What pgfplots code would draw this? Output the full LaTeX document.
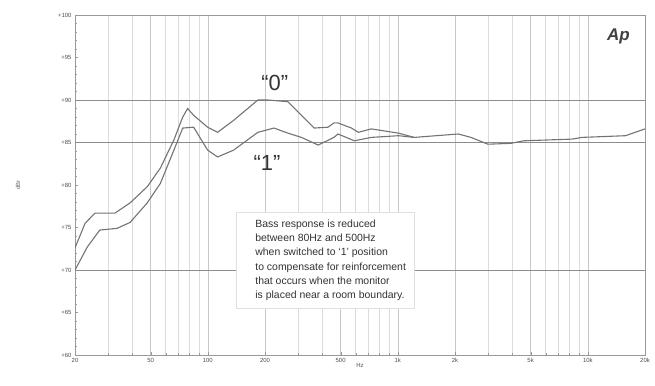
\documentclass[border=0pt]{standalone}
\usepackage{fontspec}
\setmainfont{Liberation Sans}
\usepackage{pgfplots}
\pgfplotsset{compat=1.18}
\begin{document}
\begin{tikzpicture}[x=1bp,y=1bp]
\begin{axis}[
  at={(75bp,31bp)}, anchor=south west,
  width=570bp, height=340bp, scale only axis,
  xmode=log, xmin=20, xmax=20000, ymin=60, ymax=100,
  xtick={20,50,100,200,500,1000,2000,5000,10000,20000},
  xticklabels={20,50,100,200,500,1k,2k,5k,10k,20k},
  minor xtick={30,40,60,70,80,90,300,400,600,700,800,900,3000,4000,6000,7000,8000,9000},
  ytick={60,65,70,75,80,85,90,95,100},
  yticklabels={+60,+65,+70,+75,+80,+85,+90,+95,+100},
  minor ytick={61,62,63,64,66,67,68,69,71,72,73,74,76,77,78,79,81,82,83,84,86,87,88,89,91,92,93,94,96,97,98,99},
  /pgf/number format/assume math mode=true,
  tick label style={font=\fontsize{6}{7}\selectfont, text=black!70},
  xmajorgrids, xminorgrids,
  major grid style={black!22, line width=0.6pt},
  minor grid style={black!14, line width=0.5pt},
  extra y ticks={70,85,90},
  extra y tick labels={},
  extra y tick style={grid=major, major grid style={black!45, line width=0.7pt}, major tick length=0pt},
  axis line style={black!40},
  tick style={black!40},
  major tick length=3bp, minor tick length=2bp,
  xtick pos=bottom, ytick pos=left,
  xlabel={Hz}, xlabel style={font=\fontsize{6}{7}\selectfont, text=black!70, yshift=6bp},
  ylabel={dBr},
  every axis y label/.style={at={(axis description cs:-0.1,0.5)}, rotate=90, anchor=center, font=\fontsize{6}{7}\selectfont, text=black!60},
  clip=true,
]
\addplot[black!55, line width=1.1pt] coordinates {
(20,72.6) (22.6,75.5) (25.5,76.7) (32.5,76.7) (39,77.9) (48,79.8) (56.3,82) (66.3,85.3) (73.8,88) (78.3,89.0) (84.2,88.2) (99.8,86.8) (112.6,86.2) (136.6,87.6) (183.5,90.0) (207,90) (264,89.8) (311,88.2) (363,86.7) (429,86.8) (461,87.3) (484,87.3) (570,86.7) (620,86.2) (726,86.6) (1008,86.1) (1220,85.6) (2080,86.0) (2428,85.6) (2980,84.8) (3940,84.9) (4600,85.2) (8280,85.4) (9300,85.6) (15800,85.8) (20000,86.6)
};
\addplot[black!55, line width=1.1pt] coordinates {
(20,70.0) (23.2,72.7) (27,74.7) (33.3,74.9) (39,75.6) (48,77.9) (56.3,80.2) (66.3,84.1) (73.8,86.7) (84.2,86.8) (99.8,84.1) (112.6,83.3) (136.6,84.1) (183.5,86.2) (223,86.7) (264,86.1) (311,85.6) (381,84.7) (461,85.6) (484,86.0) (591,85.2) (726,85.6) (1008,85.8) (1220,85.6)
};
\node[font=\fontsize{22}{24}\selectfont, text=black!80] at (axis cs:225,92.0) {“0”};
\node[font=\fontsize{22}{24}\selectfont, text=black!80] at (axis cs:205,82.6) {“1”};
\node[fill=white, draw=black!12, anchor=north west, inner xsep=0bp, inner ysep=5bp,
  font=\fontsize{10.5}{14.3}\selectfont, text=black!80]
  at (axis cs:141,76.8) {\begin{tabular}{@{\hspace{19bp}}l@{\hspace{8bp}}}Bass response is reduced\\between 80Hz and 500Hz\\when switched to ‘1’ position\\to compensate for reinforcement\\that occurs when the monitor\\is placed near a room boundary.\end{tabular}};
\node[font=\fontsize{17}{18}\selectfont\bfseries\itshape, text=black!75] at (axis cs:14500,97.5) {Ap};
\end{axis}
\useasboundingbox (0,0) rectangle (655bp,386bp);
\end{tikzpicture}
\end{document}
